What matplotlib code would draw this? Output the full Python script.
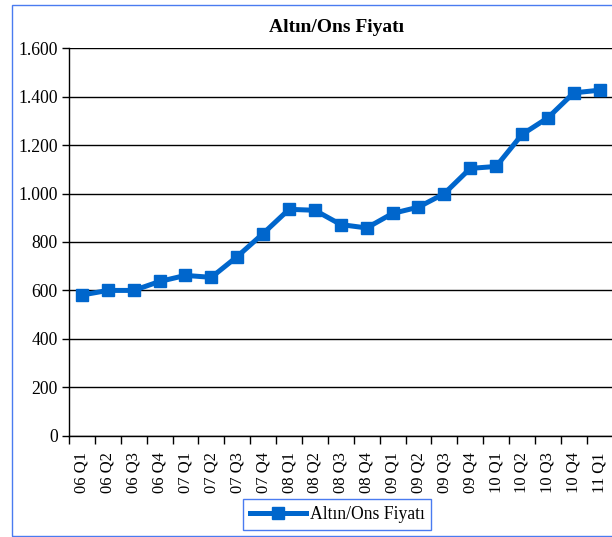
import matplotlib
matplotlib.use("Agg")
import matplotlib.pyplot as plt
from matplotlib.patches import Rectangle
from matplotlib.ticker import FuncFormatter

categories = ["06 Q1", "06 Q2", "06 Q3", "06 Q4", "07 Q1", "07 Q2", "07 Q3", "07 Q4",
              "08 Q1", "08 Q2", "08 Q3", "08 Q4", "09 Q1", "09 Q2", "09 Q3", "09 Q4",
              "10 Q1", "10 Q2", "10 Q3", "10 Q4", "11 Q1"]
prices = [581, 600, 600, 637, 662, 654, 740, 835,
          935, 931, 872, 858, 918, 944, 1000, 1104,
          1112, 1244, 1313, 1416, 1427]
series_name = "Altın/Ons Fiyatı"
title = "Altın/Ons Fiyatı"
yticks = [0, 200, 400, 600, 800, 1000, 1200, 1400, 1600]

plt.rcParams['font.family'] = ['Liberation Serif', 'DejaVu Serif']

W, H = 612, 537
fig = plt.figure(figsize=(W / 100, H / 100), dpi=100)

# figure border (blue)
fig.patches.append(Rectangle((11.7 / W, 1 - 536 / H), 1.2, (536 - 5) / H,
                             transform=fig.transFigure, fill=False,
                             edgecolor='#4A7BF0', linewidth=1.0))

left, right, top, bottom = 69, 612.6, 48.3, 435.7
ax = fig.add_axes([left / W, 1 - bottom / H, (right - left) / W, (bottom - top) / H])

x = list(range(len(categories)))
ax.plot(x, prices, color='#0066CC', linewidth=3.6, marker='s', markersize=8,
        label=series_name, solid_joinstyle='round')

ax.set_xlim(-0.5, len(categories) - 0.5)
ax.set_ylim(0, 1600)
ax.set_yticks(yticks)
ax.yaxis.set_major_formatter(FuncFormatter(lambda v, p: f"{int(v):,}".replace(",", ".")))
ax.set_xticks(x)
ax.set_xticklabels(categories, rotation=90)
ax.set_xticks([i - 0.5 for i in range(len(categories) + 1)], minor=True)
ax.tick_params(axis='x', which='major', length=0, labelsize=12, pad=12)
ax.tick_params(axis='x', which='minor', length=5.5, width=1, direction='out')
ax.tick_params(axis='y', length=5, width=1, labelsize=12.7, pad=3)

ax.grid(axis='y', color='black', linewidth=1)
ax.set_axisbelow(True)
for s in ['top', 'right']:
    ax.spines[s].set_visible(False)
for s in ['left', 'bottom']:
    ax.spines[s].set_linewidth(1)
    ax.spines[s].set_color('black')

fig.text(336 / W, 1 - 28 / H, title, ha='center', va='center', fontsize=14, fontweight='bold')

leg = fig.legend(loc='center', bbox_to_anchor=(337 / W, 1 - 514.5 / H), fontsize=12.7,
                 fancybox=False, framealpha=1, edgecolor='#4A7BF0', handlelength=3.2,
                 borderpad=0.4, handletextpad=0.2)
leg.get_frame().set_linewidth(1)

fig.savefig("out.png", dpi=100)
